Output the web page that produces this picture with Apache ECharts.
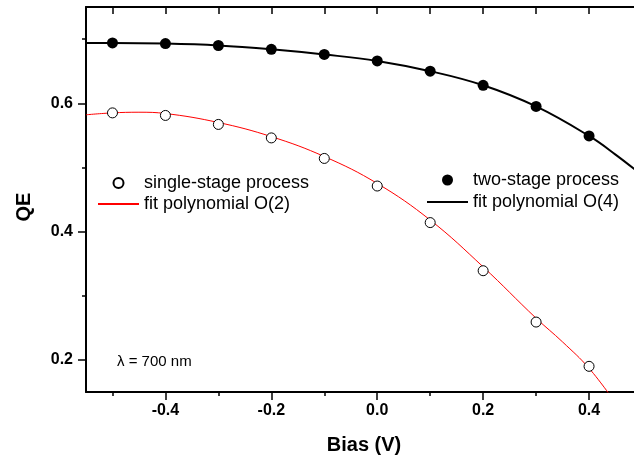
<!DOCTYPE html>
<html>
<head>
<meta charset="utf-8">
<script src="https://cdn.jsdelivr.net/npm/echarts@6/dist/echarts.min.js"></script>
<style>
html,body{margin:0;padding:0;background:#fff;}
#chart{width:634px;height:459px;}
</style>
</head>
<body>
<div id="chart"></div>
<script>
// ---- data ----
var biasPoints = [-0.5, -0.4, -0.3, -0.2, -0.1, 0.0, 0.1, 0.2, 0.3, 0.4];
var singleStageQE = [0.585, 0.581, 0.567, 0.546, 0.514, 0.471, 0.414, 0.339, 0.259, 0.190];
var twoStageQE = [0.694, 0.693, 0.690, 0.684, 0.676, 0.666, 0.650, 0.628, 0.595, 0.549];

var fitBias = [-0.55, -0.5, -0.45, -0.4, -0.3, -0.2, -0.1, 0.0, 0.1, 0.2, 0.3, 0.35, 0.4, 0.45];
var fitO2 = [0.582, 0.585, 0.586, 0.584, 0.570, 0.548, 0.517, 0.475, 0.418, 0.345, 0.265, 0.228, 0.187, 0.133];
var fitBias4 = [-0.55, -0.5, -0.4, -0.3, -0.2, -0.1, 0.0, 0.1, 0.2, 0.3, 0.4, 0.45, 0.5];
var fitO4 = [0.694, 0.694, 0.693, 0.690, 0.684, 0.676, 0.666, 0.650, 0.628, 0.595, 0.549, 0.520, 0.488];

var xMajorTicks = [-0.4, -0.2, 0.0, 0.2, 0.4];
var xMinorTicks = [-0.5, -0.3, -0.1, 0.1, 0.3];
var yMajorTicks = [0.2, 0.4, 0.6];
var yMinorTicks = [0.3, 0.5, 0.7];

var seriesNames = ['single-stage process', 'fit polynomial O(2)', 'two-stage process', 'fit polynomial O(4)'];
var annotation = '\u03bb = 700 nm';

function pairs(xs, ys) { return xs.map(function (x, i) { return [x, ys[i]]; }); }

var FONT = 'Liberation Sans, Arial, sans-serif';
var X_MIN = -0.55, X_MAX = 0.5, Y_MIN = 0.15, Y_MAX = 0.75;

var chart = echarts.init(document.getElementById('chart'));
var lineBlack = { show: true, onZero: false, lineStyle: { color: '#000', width: 2 } };
var noLine = { show: false, onZero: false };

chart.setOption({
  animation: false,
  backgroundColor: '#fff',
  grid: { left: 86, top: 7, width: 556, bottom: 67, containLabel: false, outerBoundsMode: 'none' },
  xAxis: [
    {
      type: 'value', position: 'bottom', min: X_MIN, max: X_MAX,
      axisLine: lineBlack,
      axisTick: { show: true, customValues: xMajorTicks, length: 8, lineStyle: { color: '#000', width: 1.5 } },
      axisLabel: { customValues: xMajorTicks, margin: 11, color: '#000', fontFamily: FONT, fontWeight: 'bold', fontSize: 16,
        formatter: function (v) { return v.toFixed(1); } },
      splitLine: { show: false },
      name: 'Bias (V)', nameLocation: 'middle', nameGap: 43,
      nameTextStyle: { color: '#000', fontFamily: FONT, fontWeight: 'bold', fontSize: 20 }
    },
    {
      type: 'value', position: 'bottom', min: X_MIN, max: X_MAX,
      axisLine: noLine,
      axisTick: { show: true, customValues: xMinorTicks, length: 4, lineStyle: { color: '#000', width: 1.5 } },
      axisLabel: { show: false }, splitLine: { show: false }
    },
    {
      type: 'value', position: 'top', min: X_MIN, max: X_MAX,
      axisLine: lineBlack,
      axisTick: { show: true, inside: true, customValues: xMajorTicks.concat(xMinorTicks), length: 7, lineStyle: { color: '#000', width: 1.5 } },
      axisLabel: { show: false }, splitLine: { show: false }
    }
  ],
  yAxis: [
    {
      type: 'value', position: 'left', min: Y_MIN, max: Y_MAX,
      axisLine: lineBlack,
      axisTick: { show: true, customValues: yMajorTicks, length: 8, lineStyle: { color: '#000', width: 1.5 } },
      axisLabel: { customValues: yMajorTicks, margin: 13, color: '#000', fontFamily: FONT, fontWeight: 'bold', fontSize: 16,
        formatter: function (v) { return v.toFixed(1); } },
      splitLine: { show: false },
      name: 'QE', nameLocation: 'middle', nameGap: 52, nameRotate: 90,
      nameTextStyle: { color: '#000', fontFamily: FONT, fontWeight: 'bold', fontSize: 20, padding: [0, 15, 0, 0] }
    },
    {
      type: 'value', position: 'left', min: Y_MIN, max: Y_MAX,
      axisLine: noLine,
      axisTick: { show: true, customValues: yMinorTicks, length: 4, lineStyle: { color: '#000', width: 1.5 } },
      axisLabel: { show: false }, splitLine: { show: false }
    }
  ],
  legend: [
    {
      data: [
        { name: seriesNames[0] },
        { name: seriesNames[1], itemStyle: { opacity: 0 } }
      ],
      orient: 'vertical', left: 92, top: 169, itemWidth: 41, itemHeight: 10, itemGap: 3,
      textStyle: { color: '#000', fontFamily: FONT, fontSize: 18 },
      selectedMode: false
    },
    {
      data: [
        { name: seriesNames[2] },
        { name: seriesNames[3], itemStyle: { opacity: 0 } }
      ],
      orient: 'vertical', left: 421, top: 166, itemWidth: 41, itemHeight: 11, itemGap: 4,
      textStyle: { color: '#000', fontFamily: FONT, fontSize: 18 },
      selectedMode: false
    }
  ],
  graphic: [
    {
      type: 'text', left: 117, top: 354,
      style: { text: annotation, fontFamily: FONT, fontSize: 15, fill: '#000' }
    }
  ],
  series: [
    {
      name: seriesNames[1], type: 'line', data: pairs(fitBias, fitO2), smooth: 0.4,
      showSymbol: false, symbol: 'none', clip: true, z: 2,
      lineStyle: { color: '#ff0000', width: 1 }, itemStyle: { color: '#ff0000' }
    },
    {
      name: seriesNames[3], type: 'line', data: pairs(fitBias4, fitO4), smooth: 0.4,
      showSymbol: false, symbol: 'none', clip: true, z: 2,
      lineStyle: { color: '#000', width: 2 }, itemStyle: { color: '#000' }
    },
    {
      name: seriesNames[0], type: 'scatter', data: pairs(biasPoints, singleStageQE),
      symbol: 'circle', symbolSize: 10, z: 3,
      itemStyle: { color: '#fff', borderColor: '#000', borderWidth: 1, opacity: 1 }
    },
    {
      name: seriesNames[2], type: 'scatter', data: pairs(biasPoints, twoStageQE),
      symbol: 'circle', symbolSize: 11, z: 3,
      itemStyle: { color: '#000', opacity: 1 }
    }
  ]
});
</script>
</body>
</html>
